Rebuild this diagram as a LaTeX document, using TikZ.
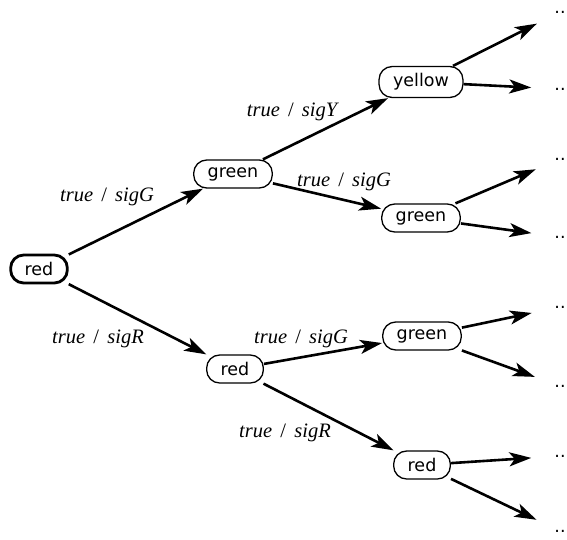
\documentclass[tikz,border=0pt]{standalone}
\usepackage{fontspec}
\setmainfont{Liberation Serif}
\newfontfamily\statefont{DejaVu Sans}
\usetikzlibrary{positioning, arrows.meta}

\newcommand{\trlabel}[1]{\textit{true}\hspace{0.4em}/\hspace{0.4em}\textit{#1}}

\begin{document}
\begin{tikzpicture}[
    x=1pt, y=-1pt,
    state/.style={rectangle, draw=black, line width=1.3pt, rounded corners=13pt, minimum height=28pt, inner xsep=14pt, inner ysep=7pt, font=\statefont\fontsize{17.5}{20}\selectfont},
    start/.style={state, line width=2.8pt},
    more/.style={inner sep=0pt, font=\statefont\fontsize{17.5}{20}\selectfont},
    trans/.style={font=\fontsize{20.5}{24}\selectfont},
    arrow/.style={-{Stealth[length=22pt, width=14pt, inset=5.5pt]}, line width=2.6pt},
    open/.style={arrow, shorten >=23pt}
]
\useasboundingbox (0,0) rectangle (567,539);

% States
\node[start] (r0) at (39, 269) {red};
\node[state] (g1) at (233, 174) {green};
\node[state] (r1) at (235, 369) {red};
\node[state] (y2) at (421, 82) {yellow};
\node[state] (g2) at (421, 218) {green};
\node[state] (g3) at (422, 336) {green};
\node[state] (r3) at (422, 465) {red};

% Continuations
\node[more] (m1) at (560, 12) {..};
\node[more] (m2) at (560, 89) {..};
\node[more] (m3) at (560, 159) {..};
\node[more] (m4) at (560, 237) {..};
\node[more] (m5) at (560, 307) {..};
\node[more] (m6) at (560, 386) {..};
\node[more] (m7) at (560, 456) {..};
\node[more] (m8) at (560, 531) {..};

% Transitions
\draw[arrow] (r0) -- (g1);
\draw[arrow] (r0) -- (r1);
\draw[arrow] (g1) -- (y2);
\draw[arrow] (g1) -- (g2);
\draw[arrow] (r1) -- (g3);
\draw[arrow] (r1) -- (r3);

\draw[open] (y2) -- (m1);
\draw[open] (y2) -- (m2);
\draw[open] (g2) -- (m3);
\draw[open] (g2) -- (m4);
\draw[open] (g3) -- (m5);
\draw[open] (g3) -- (m6);
\draw[open] (r3) -- (m7);
\draw[open] (r3) -- (m8);

% Labels
\node[trans] (t1) at (107, 197) {\trlabel{sigG}};
\node[trans] (t2) at (98, 339) {\trlabel{sigR}};
\node[trans] (t3) at (293, 112) {\trlabel{sigY}};
\node[trans] (t4) at (344, 182) {\trlabel{sigG}};
\node[trans] (t5) at (301, 339) {\trlabel{sigG}};
\node[trans] (t6) at (285, 433) {\trlabel{sigR}};

\end{tikzpicture}
\end{document}
